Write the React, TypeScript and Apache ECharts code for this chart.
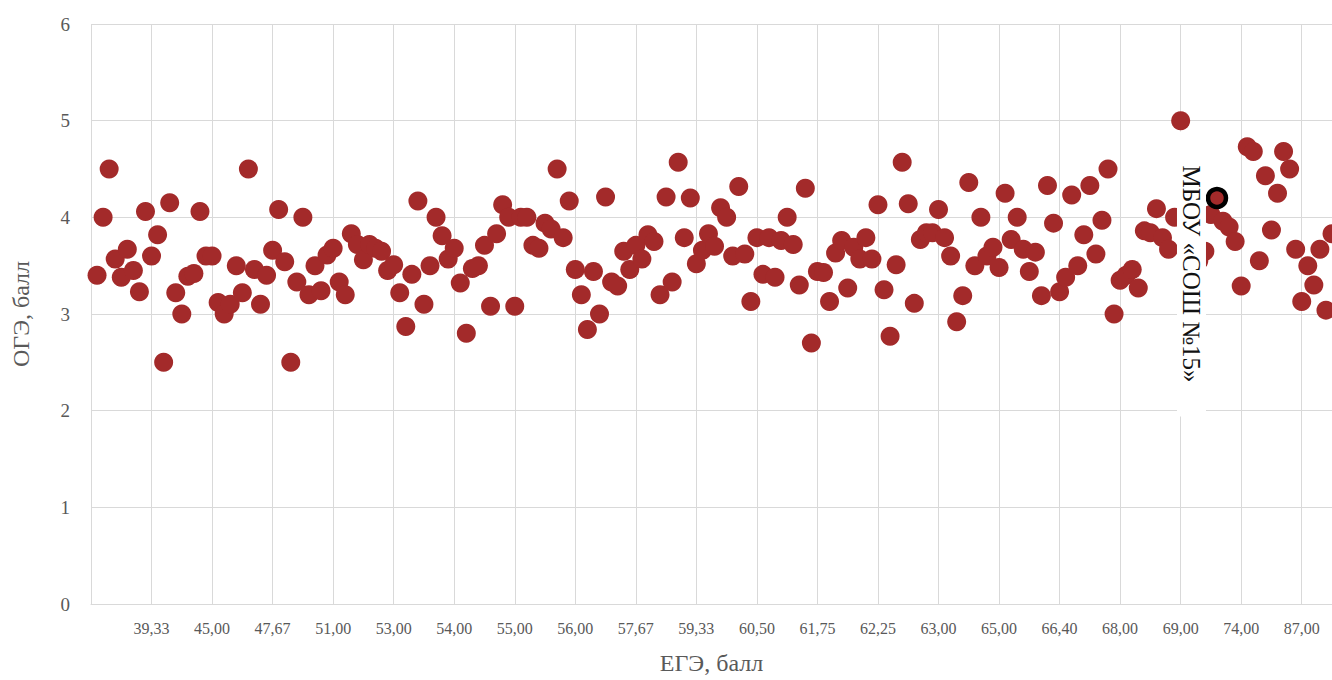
import React, { useEffect, useRef } from 'react';
import * as echarts from 'echarts';

// Tick labels shown on the ЕГЭ (category) axis, one every 10 schools
const tickLabels = [
  '39,33', '45,00', '47,67', '51,00', '53,00', '54,00', '55,00', '56,00', '57,67', '59,33',
  '60,50', '61,75', '62,25', '63,00', '65,00', '66,40', '68,00', '69,00', '74,00', '87,00',
];

// ОГЭ values, one per school (index 0 is the empty slot at the axis start)
const ogeValues: (number | null)[] = [
  null, 3.40, 4.00, 4.50, 3.57, 3.38, 3.67, 3.45, 3.23, 4.06,
  3.60, 3.82, 2.50, 4.15, 3.22, 3.00, 3.39, 3.42, 4.06, 3.60,
  3.60, 3.12, 3.00, 3.10, 3.50, 3.22, 4.50, 3.46, 3.10, 3.40,
  3.66, 4.08, 3.54, 2.50, 3.33, 4.00, 3.20, 3.50, 3.24, 3.61,
  3.68, 3.33, 3.20, 3.83, 3.72, 3.56, 3.72, 3.68, 3.65, 3.45,
  3.51, 3.22, 2.87, 3.41, 4.17, 3.10, 3.50, 4.00, 3.81, 3.57,
  3.68, 3.32, 2.80, 3.47, 3.50, 3.71, 3.08, 3.83, 4.13, 4.00,
  3.08, 4.00, 4.00, 3.71, 3.68, 3.94, 3.88, 4.50, 3.79, 4.17,
  3.46, 3.20, 2.84, 3.44, 3.00, 4.21, 3.33, 3.29, 3.65, 3.46,
  3.71, 3.57, 3.82, 3.75, 3.20, 4.21, 3.33, 4.57, 3.79, 4.20,
  3.52, 3.66, 3.83, 3.70, 4.10, 4.00, 3.60, 4.32, 3.62, 3.13,
  3.79, 3.41, 3.79, 3.38, 3.76, 4.00, 3.72, 3.30, 4.30, 2.70,
  3.44, 3.43, 3.13, 3.63, 3.76, 3.27, 3.69, 3.57, 3.79, 3.57,
  4.13, 3.25, 2.77, 3.51, 4.57, 4.14, 3.11, 3.77, 3.84, 3.84,
  4.08, 3.79, 3.60, 2.92, 3.19, 4.36, 3.50, 4.00, 3.60, 3.69,
  3.48, 4.25, 3.77, 4.00, 3.67, 3.44, 3.64, 3.19, 4.33, 3.94,
  3.23, 3.38, 4.23, 3.50, 3.82, 4.33, 3.62, 3.97, 4.50, 3.00,
  3.35, 3.40, 3.46, 3.27, 3.86, 3.84, 4.09, 3.79, 3.67, 4.00,
  5.00, 3.75, 3.85, 3.55, 3.65, 4.03, 4.20, 3.96, 3.90, 3.75,
  3.29, 4.73, 4.68, 3.55, 4.43, 3.87, 4.25, 4.68, 4.50, 3.67,
  3.13, 3.50, 3.30, 3.67, 3.04, 3.83,
];

const highlightIndex = 186;
const highlightName = 'МБОУ «СОШ №15»';
const xAxisName = 'ЕГЭ, балл';
const yAxisName = 'ОГЭ, балл';

const FONT = '"Liberation Serif", "Times New Roman", serif';
const GRID = '#d9d9d9';
const TEXT = '#595959';
const RED = '#a32a2a';

export default function App() {
  const ref = useRef<HTMLDivElement>(null);

  useEffect(() => {
    if (!ref.current) return;
    const chart = echarts.init(ref.current, null, { renderer: 'svg' });

    const categories = ogeValues.map((_, i) =>
      i > 0 && i % 10 === 0 ? tickLabels[i / 10 - 1] : ''
    );
    const data: any[] = [];
    ogeValues.forEach((v, i) => {
      if (v == null) return;
      if (i === highlightIndex) {
        data.push({
          value: [i, v],
          symbolSize: 18,
          itemStyle: { color: RED, borderColor: '#000', borderWidth: 4.5 },
        });
      } else {
        data.push([i, v]);
      }
    });

    chart.setOption({
      animation: false,
      backgroundColor: '#fff',
      grid: { left: 91, right: -1, top: 24, bottom: 76 },
      xAxis: {
        type: 'category',
        data: categories,
        boundaryGap: false,
        axisLine: { show: true, lineStyle: { color: GRID, width: 1 } },
        axisTick: { show: false },
        axisLabel: {
          interval: 9,
          color: TEXT,
          fontSize: 16,
          fontFamily: FONT,
          margin: 16,
        },
        splitLine: { show: true, interval: 9, lineStyle: { color: GRID, width: 1 } },
        name: xAxisName,
        nameLocation: 'middle',
        nameGap: 47,
        nameTextStyle: { fontSize: 24, color: TEXT, fontFamily: FONT },
      },
      yAxis: {
        type: 'value',
        min: 0,
        max: 6,
        interval: 1,
        axisLine: { show: false },
        axisTick: { show: false },
        axisLabel: { color: TEXT, fontSize: 19, fontFamily: FONT, margin: 21 },
        splitLine: { show: true, lineStyle: { color: GRID, width: 1 } },
        name: yAxisName,
        nameLocation: 'middle',
        nameGap: 58,
        nameTextStyle: { fontSize: 24, color: TEXT, fontFamily: FONT },
      },
      series: [
        {
          type: 'scatter',
          data,
          symbol: 'circle',
          symbolSize: 19,
          itemStyle: { color: RED, opacity: 1 },
          z: 2,
        },
      ],
    });

    const hv = ogeValues[highlightIndex] as number;
    const p = chart.convertToPixel({ seriesIndex: 0 }, [highlightIndex, hv]) as number[];
    if (p && isFinite(p[0])) {
      chart.setOption({
        graphic: [
          {
            type: 'text',
            x: p[0] - 25.5,
            y: p[1] + 76,
            rotation: -Math.PI / 2,
            z: 100,
            style: {
              text: highlightName,
              fill: '#111',
              font: '25px ' + FONT,
              align: 'center',
              verticalAlign: 'middle',
              backgroundColor: '#fff',
              padding: [2, 34, 2, 34],
            },
          },
        ],
      });
    }

    return () => chart.dispose();
  }, []);

  return (
    <div
      ref={ref}
      style={{ position: 'fixed', left: 0, top: 0, width: 1332, height: 680, background: '#fff' }}
    />
  );
}
